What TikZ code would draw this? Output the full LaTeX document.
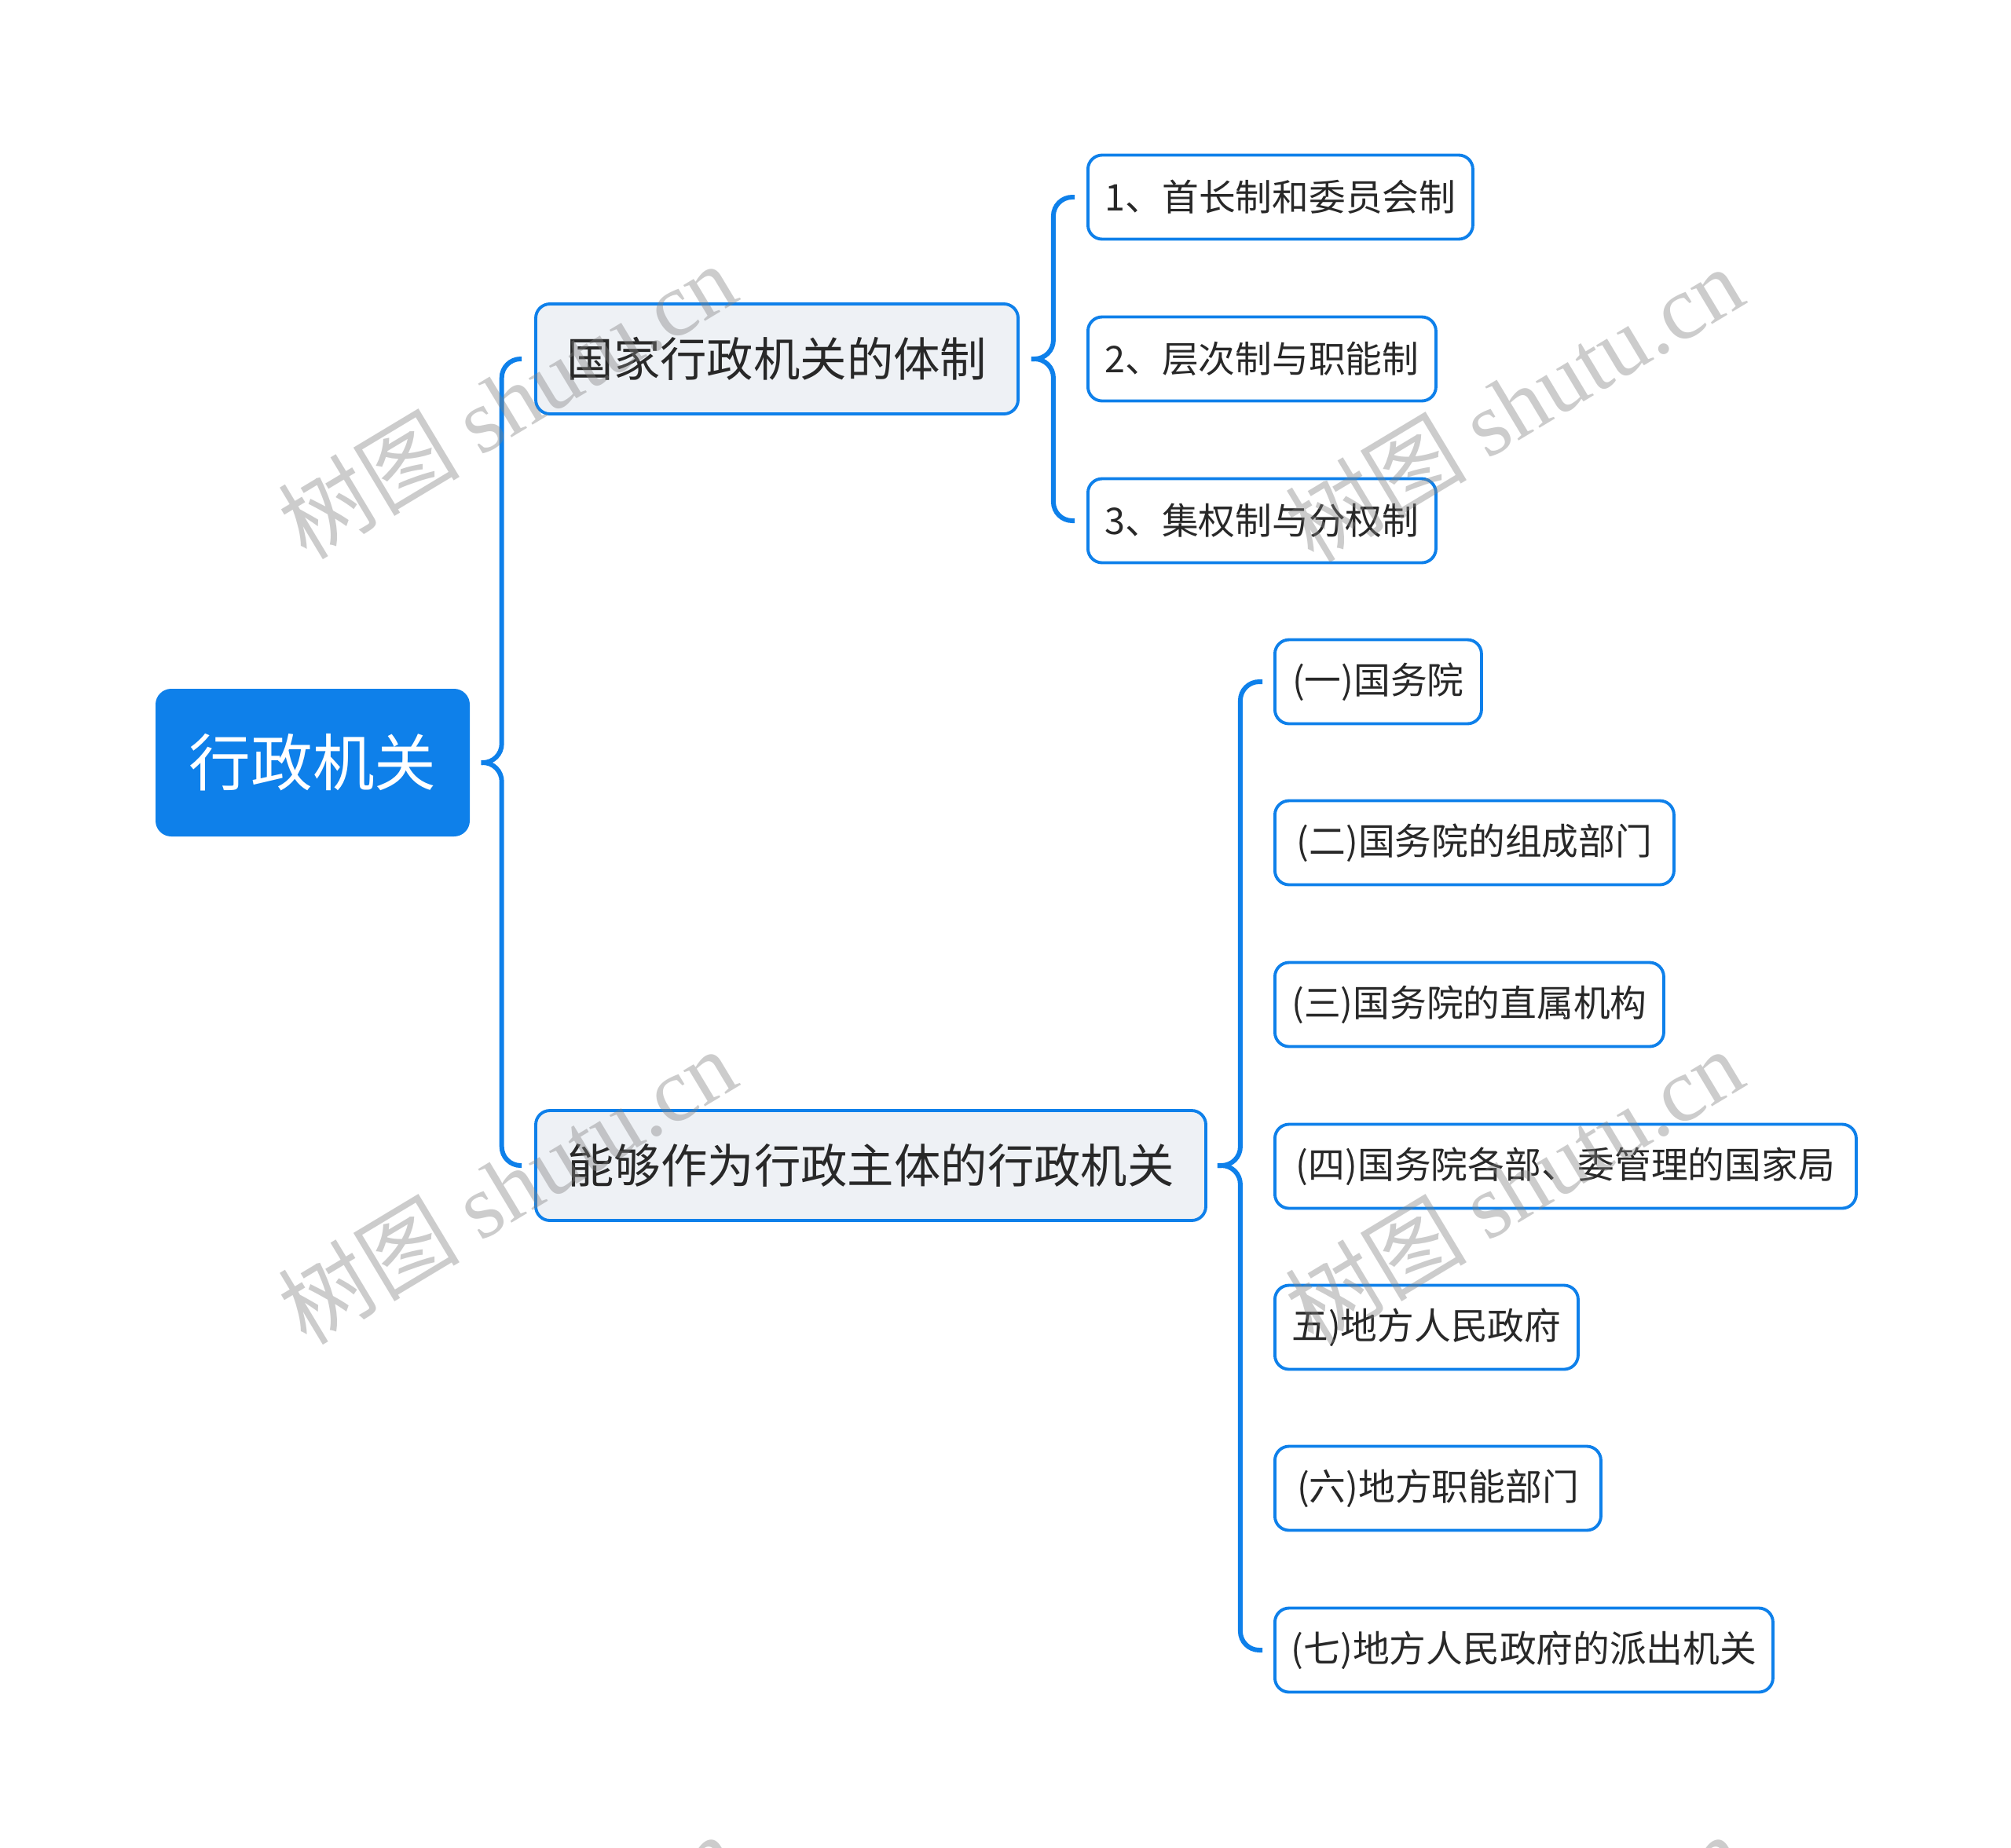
\documentclass[tikz,border=0pt]{standalone}
\usepackage{fontspec}
\setmainfont{Noto Sans CJK SC}
\newfontfamily\wmlatin{Liberation Serif}
\newfontfamily\wmcjk{Noto Sans CJK SC}
\usetikzlibrary{calc}
\definecolor{mblue}{RGB}{14,128,234}
\definecolor{lfill}{RGB}{238,241,245}
\definecolor{ttext}{RGB}{40,40,40}
\tikzset{
  rootbox/.style={fill=mblue, rounded corners=0.2cm, text=white, inner sep=0pt,
    minimum width=4.00cm, minimum height=1.88cm, font=\fontsize{22.4pt}{26pt}\selectfont},
  mainbox/.style={draw=mblue, line width=1.1pt, fill=lfill, rounded corners=0.18cm, text=ttext,
    inner sep=0pt, minimum height=1.40cm, font=\fontsize{16.9pt}{20pt}\selectfont},
  leafbox/.style={draw=mblue, line width=1.1pt, fill=white, rounded corners=0.18cm, text=ttext,
    inner sep=0pt, minimum height=1.07cm, anchor=west, font=\fontsize{13.3pt}{16pt}\selectfont},
  conn/.style={draw=mblue, line width=1.7pt, rounded corners=0.24cm},
  wmark/.style={text=black!50, opacity=0.4, rotate=31, font=\fontsize{33pt}{38pt}\selectfont}
}
\begin{document}
\begin{tikzpicture}
\useasboundingbox (0,0) rectangle (25.6,-23.52);

% nodes
\node[rootbox] (R) at (3.98,-9.71) {行政机关};
\node[mainbox, minimum width=6.14cm] (A) at (9.89,-4.57) {国家行政机关的体制\hspace{0.12cm}};
\node[mainbox, minimum width=8.53cm] (B) at (11.085,-14.84) {能够作为行政主体的行政机关\hspace{0.12cm}};

\node[leafbox, minimum width=4.90cm] (L1) at (13.83,-2.51) {1、首长制和委员会制};
\node[leafbox, minimum width=4.43cm] (L2) at (13.83,-4.57) {2、层次制与职能制};
\node[leafbox, minimum width=4.43cm] (L3) at (13.83,-6.63) {3、集权制与分权制};

\node[leafbox, minimum width=2.63cm] (C1) at (16.21,-8.68) {(一)国务院};
\node[leafbox, minimum width=5.08cm] (C2) at (16.21,-10.73) {(二)国务院的组成部门};
\node[leafbox, minimum width=4.95cm] (C3) at (16.21,-12.79) {(三)国务院的直属机构};
\node[leafbox, minimum width=7.40cm] (C4) at (16.21,-14.85) {(四)国务院各部、委管理的国家局};
\node[leafbox, minimum width=3.86cm] (C5) at (16.21,-16.90) {五)地方人民政府};
\node[leafbox, minimum width=4.15cm] (C6) at (16.21,-18.95) {(六)地方职能部门};
\node[leafbox, minimum width=6.34cm] (C7) at (16.21,-21.01) {(七)地方人民政府的派出机关};

% connectors (brace style)
\foreach \c in {A,B}
  \draw[conn] ($(R.east)+(0.14,0)$) -- ++(0.26,0) |- ($(\c.west)+(-0.16,0)$);
\foreach \c in {L1,L3}
  \draw[conn] ($(A.east)+(0.15,0)$) -- ++(0.28,0) |- ($(\c.west)+(-0.15,0)$);
\foreach \c in {C1,C7}
  \draw[conn] ($(B.east)+(0.13,0)$) -- ++(0.29,0) |- ($(\c.west)+(-0.14,0)$);

% watermarks
\begin{scope}
\clip (0,0) rectangle (25.6,-23.52);
\foreach \x/\y in {6.45/-5.10, 19.27/-5.14, 6.45/-15.10, 19.27/-15.10, 6.45/-25.10, 19.27/-25.10}
  \node[wmark] at (\x,\y) {{\wmcjk 树图} {\wmlatin shutu.cn}};
\end{scope}
\end{tikzpicture}
\end{document}
